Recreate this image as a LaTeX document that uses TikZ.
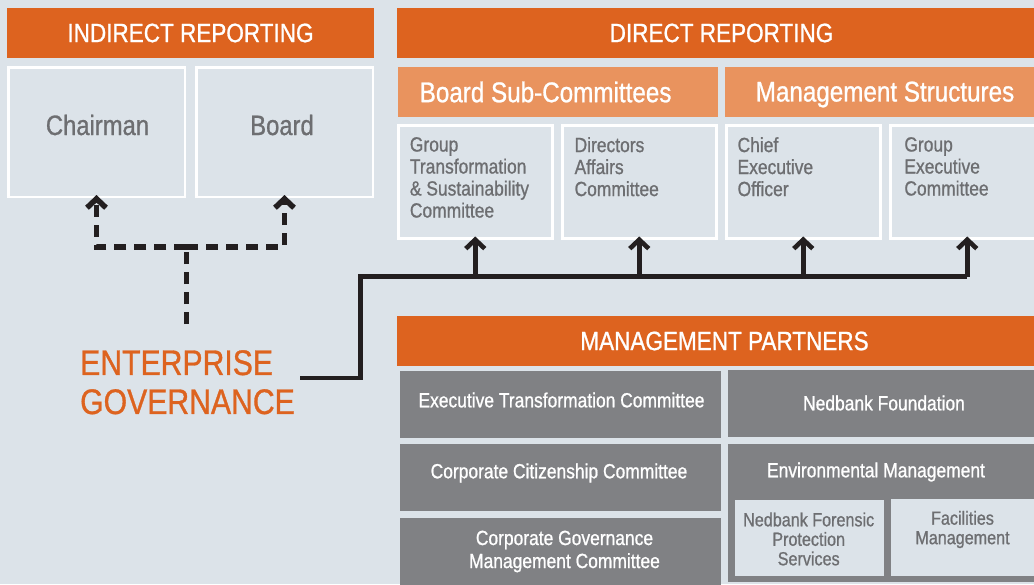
\documentclass[tikz,border=0pt]{standalone}
\usepackage{fontspec}
\setmainfont{Liberation Sans}[FakeStretch=0.85,FakeBold=0.9]
\usetikzlibrary{arrows.meta}
\definecolor{bgc}{HTML}{DCE3E9}
\definecolor{org}{HTML}{DD631F}
\definecolor{lorg}{HTML}{E9935E}
\definecolor{gry}{HTML}{808184}
\definecolor{tgry}{HTML}{6D6E71}
\definecolor{blk}{HTML}{231F20}
\tikzset{
  hdr/.style={fill=org, text=white, anchor=north west, inner sep=0, outer sep=0,
    minimum height=50, font=\fontsize{26.5}{30}\selectfont},
  subbar/.style={fill=lorg, anchor=north west, inner sep=0, outer sep=0, minimum height=50},
  subtxt/.style={text=white, inner sep=0, font=\fontsize{28.5}{32}\selectfont},
  lbox/.style={draw=white, line width=2.5, fill=bgc, anchor=north west, inner sep=0},
  ltxt/.style={text=tgry, inner sep=0, font=\fontsize{28}{32}\selectfont},
  ctxt/.style={text=tgry, inner sep=0, anchor=north west, align=left,
    font=\fontsize{20.5}{22}\selectfont},
  gbox/.style={fill=gry, anchor=north west, inner sep=0, outer sep=0},
  ibox/.style={fill=bgc, anchor=north west, inner sep=0, outer sep=0},
  gtxt/.style={text=white, inner sep=0, align=center, font=\fontsize{20.5}{23}\selectfont},
  itxt/.style={text=tgry, inner sep=0, align=center, font=\fontsize{19}{19.5}\selectfont},
  egtxt/.style={text=org, inner sep=0, anchor=north west, align=left,
    font=\fontsize{35.5}{39}\selectfont},
  conn/.style={draw=blk, line width=4.6, line join=miter},
  dconn/.style={draw=blk, line width=5.5, dash pattern=on 12 off 8},
  arr/.style={-{Straight Barb[length=9pt,width=19pt,sharp]}, shorten >=-3pt}
}
\begin{document}
\begin{tikzpicture}[x=1pt,y=-1pt]
\useasboundingbox (0,0) rectangle (1034,584);
\clip (0,0) rectangle (1034,584);
\fill[bgc] (0,0) rectangle (1034,584);

% Indirect reporting
\node[hdr, minimum width=367] (ind) at (7,8) {INDIRECT REPORTING};
\node[lbox, minimum width=176.5, minimum height=129.5] (chair) at (7,66) {};
\node[ltxt] (chairT) at (97.5,125) {Chairman};
\node[lbox, minimum width=176.5, minimum height=129.5] (board) at (195,66) {};
\node[ltxt] (boardT) at (282,125) {Board};

% Direct reporting
\node[hdr, minimum width=649] (dir) at (397,8) {DIRECT REPORTING};
\node[subbar, minimum width=320] (bsc) at (398,67) {};
\node[subtxt] (bscT) at (545.6,92) {Board Sub-Committees};
\node[subbar, minimum width=320] (ms) at (725,67) {};
\node[subtxt] (msT) at (885,94.5) {Management Structures};

\node[lbox, minimum width=154, minimum height=113] (b1) at (397,124) {};
\node[lbox, minimum width=154, minimum height=113] (b2) at (561,124) {};
\node[lbox, minimum width=154, minimum height=113] (b3) at (725,124) {};
\node[lbox, minimum width=154, minimum height=113] (b4) at (889,124) {};
\node[ctxt] (b1T) at (409.7,137) {Group\\Transformation\\\&~Sustainability\\Committee};
\node[ctxt] (b2T) at (574.4,137) {Directors\\Affairs\\Committee};
\node[ctxt] (b3T) at (737.4,137) {Chief\\Executive\\Officer};
\node[ctxt] (b4T) at (904.2,137) {Group\\Executive\\Committee};

% Management partners
\node[hdr, minimum width=655] (mp) at (397,316) {MANAGEMENT PARTNERS};
\node[gbox, minimum width=321, minimum height=67] (etc) at (400,371) {};
\node[gtxt] (etcT) at (561.5,400) {Executive Transformation Committee};
\node[gbox, minimum width=321, minimum height=67] (ccc) at (400,444) {};
\node[gtxt] (cccT) at (559,473) {Corporate Citizenship Committee};
\node[gbox, minimum width=321, minimum height=70] (cgm) at (400,518) {};
\node[gtxt] (cgmT) at (564.5,551.5) {Corporate Governance\\Management Committee};
\node[gbox, minimum width=320, minimum height=67] (nf) at (728,370) {};
\node[gtxt] (nfT) at (884,403) {Nedbank Foundation};
\node[gbox, minimum width=320, minimum height=138] (em) at (728,444) {};
\node[gtxt] (emT) at (876,472) {Environmental Management};
\node[ibox, minimum width=149, minimum height=76] (nfps) at (735,500) {};
\node[itxt] (nfpsT) at (808.7,539) {Nedbank Forensic\\Protection\\Services};
\node[ibox, minimum width=150, minimum height=77] (fm) at (891,499) {};
\node[itxt] (fmT) at (962.5,529.5) {Facilities\\Management};

% Enterprise governance
\node[egtxt] (eg) at (80,350) {ENTERPRISE\\GOVERNANCE};

% Solid connectors
\coordinate (egout) at (300,378);
\coordinate (bus) at (360.5,276.5);
\draw[conn] (egout) -| (bus) -- (b4.south |- bus);
\foreach \b in {b1,b2,b3,b4}
  \draw[conn, arr] (\b.south |- bus) -- (\b.south);

% Dashed connectors
\coordinate (dbot) at (186.3,324);
\coordinate (dtop) at (186.3,247);
\draw[dconn] (dbot) -- (dtop);
\draw[dconn, arr] (dtop) -| (chair.south);
\draw[dconn, arr] (dtop) -| (board.south);
\end{tikzpicture}
\end{document}
